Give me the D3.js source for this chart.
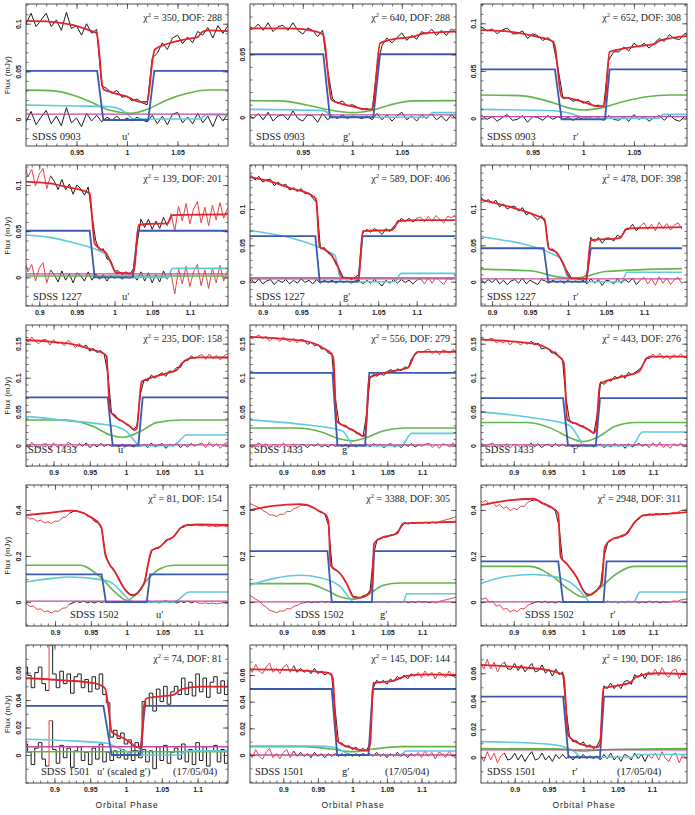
<!DOCTYPE html>
<html>
<head>
<meta charset="utf-8">
<script src="https://cdn.jsdelivr.net/npm/d3@7"></script>
<style>
  html, body { margin: 0; padding: 0; background: #fff; }
  svg text { font-family: "Liberation Sans", Arial, sans-serif; fill: #222; }
  svg text.serif { font-family: "Liberation Serif", "Times New Roman", serif; }
</style>
</head>
<body>
<svg id="fig" width="695" height="815"></svg>
<script>
// orbital phase grid of the binned light curves
const phaseGrid = [0.85,0.855,0.86,0.865,0.87,0.875,0.88,0.885,0.89,0.895,0.9,0.905,0.91,0.915,0.92,0.925,0.93,0.935,0.94,0.945,0.95,0.955,0.96,0.965,0.97,0.975,0.98,0.985,0.99,0.995,1,1.005,1.01,1.015,1.02,1.025,1.03,1.035,1.04,1.045,1.05,1.055,1.06,1.065,1.07,1.075,1.08,1.085,1.09,1.095,1.1,1.105,1.11,1.115,1.12,1.125,1.13,1.135,1.14,1.145,1.15];

// all fluxes below in microJy (1e-3 mJy)
// SDSS 0903 (starts at phase 0.895)
const obs_0903u = [107,100,111,97,104,111,97,104,93,112,95,98,88,100,90,94,35,32,27,30,23,24,19,21,17,15,64,69,80,73,85,88,79,86,80,92,88,96,85,98,90,98,87];
const res_0903u = [4,-3,8,-6,2,9,-5,3,-7,12,-4,1,-8,6,-2,4,-3,2,-1,3,-2,1,-2,2,-1,-3,4,-5,3,-6,5,7,-4,2,-5,6,-4,3,-8,5,-2,6,-5];
const obs_0903g = [73,70,74,69,75,68,72,73,69,75,69,66,71,69,64,69,38,15,11,13,9,10,8,6,7,5,40,57,63,59,63,67,61,65,62,68,66,70,65,69,65,70,67];
const res_0903g = [2,-1,3,-2,4,-3,1,2,-2,5,-1,-3,2,1,-4,3,-2,1,-1,2,-1,1,0,-1,1,-2,3,-2,2,-3,1,4,-2,1,-3,2,-1,3,-2,1,-3,2,-1];
const obs_0903r = [91,96,92,94,89,93,95,89,89,92,84,89,87,82,85,80,53,21,22,18,20,16,18,13,14,11,61,70,70,75,71,79,75,79,74,79,84,81,88,84,83,89,88];
const res_0903r = [-2,3,-1,2,-3,1,4,-2,-1,3,-4,2,1,-2,3,-1,2,-1,1,-2,1,-1,2,-1,1,-2,3,-1,-2,2,-3,4,-1,2,-3,1,3,-2,4,-1,-3,2,1];

const mod_0903u = [[0.895,103],[0.925,102],[0.947,98.5],[0.963,93],[0.970,90],[0.9725,70],[0.9755,35],[0.977,31],[0.985,28],[1.0,23.5],[1.013,18],[1.020,18],[1.022,30],[1.025,60],[1.0275,73],[1.04,79],[1.06,84],[1.07,86],[1.074,91],[1.08,93],[1.105,92]];
const wd_0903u = [[0.895,50.5],[0.9705,50.5],[0.9765,-1],[1.021,-1],[1.027,50.5],[1.105,50.5]];
const disc_0903u = [[0.895,30.4],[0.925,29.8],[0.947,25],[0.966,17],[0.982,9.4],[1.004,6],[1.022,11],[1.039,19.8],[1.059,26.7],[1.08,30.4],[1.105,30.4]];
const spot_0903u = [[0.895,14.7],[0.95,13.7],[0.984,12.9],[0.993,10.5],[1.0,5.5],[1.006,0],[1.072,0],[1.078,4.5],[1.105,4.5]];
const sec_0903u = [[0.895,5.2],[1.105,5.2]];

const mod_0903g = [[0.895,70.6],[0.937,70.6],[0.964,68],[0.9707,65.3],[0.972,60],[0.979,13.8],[0.9875,11.1],[1.001,8.5],[1.0145,6.3],[1.0195,6.3],[1.0212,10],[1.028,58.7],[1.038,61.4],[1.0616,64],[1.0734,66.7],[1.105,68]];
const wd_0903g = [[0.895,50],[0.9707,50],[0.9774,0],[1.0212,0],[1.028,50],[1.105,50]];
const disc_0903g = [[0.895,13.2],[0.927,13],[0.954,9.8],[0.977,5.8],[1.001,3.7],[1.021,5.8],[1.038,9.8],[1.0616,13],[1.105,13.2]];
const spot_0903g = [[0.895,6.3],[0.9707,5.3],[0.981,0.5],[0.985,0],[1.075,0],[1.081,3.7],[1.105,3.7]];
const sec_0903g = [[0.895,1.9],[1.105,1.9]];

const mod_0903r = [[0.895,93],[0.9276,91.2],[0.954,86],[0.9704,80.7],[0.972,75],[0.9786,22.8],[0.9868,21],[1.0,17.5],[1.013,13],[1.0197,13],[1.0214,18],[1.026,70],[1.036,72.6],[1.0625,77],[1.07,78],[1.0757,81.8],[1.105,86.7]];
const wd_0903r = [[0.895,51.6],[0.972,51.6],[0.9786,-1],[1.0214,-1],[1.026,51.6],[1.105,51.6]];
const disc_0903r = [[0.895,24.6],[0.9375,24],[0.97,16.5],[0.9836,11.6],[1.0,8.8],[1.0197,11.6],[1.039,17.5],[1.0625,22.8],[1.0855,24.6],[1.105,24.6]];
const spot_0903r = [[0.895,9.5],[0.9704,8.1],[0.987,5.3],[1.0,1],[1.004,0],[1.074,0],[1.079,4.2],[1.105,4.2]];
const sec_0903r = [[0.895,1.8],[1.105,1.8]];

// SDSS 1227
const obs_1227u = [117,100,122,108,119,96,124,109,117,99,112,118,96,110,104,95,106,95,101,90,100,96,89,98,67,40,29,31,20,18,7,7,3,6,3,9,37,63,54,63,52,61,53,65,56,69,50,77,61,80,58,74,82,59,76,56,78,62,81,64,75];
const res_1227u = [12,-5,18,4,15,-8,20,6,14,-4,10,16,-6,8,3,-5,7,-3,4,-6,5,2,-4,6,-3,4,-2,3,-4,2,-1,2,-2,1,-1,2,-3,6,-4,5,-6,3,-5,7,-2,4,-18,9,-7,12,-10,6,14,-9,8,-12,10,-6,13,-4,7];
const obs_1227g = [155,149,154,146,150,151,141,146,140,145,137,140,141,132,137,132,134,126,129,124,128,121,122,115,109,45,47,39,37,24,16,5,6,3,6,10,67,72,68,73,70,65,73,69,76,80,87,83,87,82,87,89,82,90,83,91,86,81,90,88,92];
const res_1227g = [3,-2,4,-3,2,5,-4,3,-2,4,-3,1,3,-4,2,-1,3,-3,2,-2,4,-1,2,-3,3,-2,2,-1,2,-2,1,-1,1,-2,1,2,-3,2,-2,3,-1,-6,2,-2,3,-2,3,-1,2,-3,2,4,-3,5,-2,6,1,-4,5,3,7];
const obs_1227r = [125,117,122,124,114,117,110,117,110,113,108,112,103,107,100,103,104,97,102,92,95,90,85,91,81,44,45,39,32,20,13,4,5,3,6,10,61,55,61,53,60,60,56,64,61,72,72,79,70,76,81,72,79,70,82,73,80,71,78,81,72];
const res_1227r = [3,-4,2,5,-3,1,-5,4,-2,3,-1,4,-3,2,-4,1,3,-2,5,-3,2,-1,-4,3,1,-2,2,-1,1,-2,2,-1,1,-1,2,-3,4,-2,3,-5,2,1,-3,4,-2,3,-1,5,-4,2,6,-3,4,-5,7,-2,5,-4,3,6,-3];

const mod_1227u = [[0.85,105],[0.8824,103.6],[0.914,101.8],[0.936,98],[0.9626,92.8],[0.967,91],[0.968,85],[0.9736,36.8],[0.98,31.4],[0.989,26],[0.9956,15.2],[1.002,5],[1.024,4.3],[1.0264,10],[1.032,56.7],[1.042,57.8],[1.0705,58.5],[1.073,62],[1.077,67.5],[1.15,68.2]];
const wd_1227u = [[0.85,50.5],[0.967,50.5],[0.9736,0],[1.0242,0],[1.031,50.5],[1.15,50.5]];
const disc_1227u = [[0.85,1.5],[1.15,1.5]];
const spot_1227u = [[0.85,47],[0.8824,45.8],[0.914,43.3],[0.945,37.5],[0.9714,31.4],[0.989,24.2],[0.9978,11.6],[1.0044,0.7],[1.007,0],[1.0705,0],[1.077,9.7],[1.15,9.7]];
const sec_1227u = [[0.85,3.8],[1.15,3.8]];

const mod_1227g = [[0.85,152],[0.881,144.5],[0.911,137.6],[0.937,128.4],[0.963,119.2],[0.9684,114.7],[0.9697,110],[0.974,48],[0.9805,44.5],[0.989,36.7],[0.9978,20.6],[1.003,6],[1.024,4.6],[1.025,8],[1.030,69.7],[1.067,71.1],[1.071,74],[1.076,83.5],[1.106,84.8],[1.15,84.8]];
const wd_1227g = [[0.85,62.8],[0.9684,62.8],[0.974,0],[1.024,0],[1.0295,62.8],[1.15,62.8]];
const disc_1227g = [[0.85,5.5],[1.15,5.5]];
const spot_1227g = [[0.85,75],[0.881,71],[0.9935,36.7],[1.002,0.5],[1.004,0],[1.071,0],[1.08,11.5],[1.15,11.5]];
const sec_1227g = [[0.85,4],[1.15,4]];

const mod_1227r = [[0.85,122],[0.885,113],[0.93,101],[0.965,88],[0.969,86],[0.9745,46],[0.985,40],[0.995,22],[1.003,5],[1.024,4],[1.030,57],[1.068,60],[1.078,73],[1.15,75]];
const wd_1227r = [[0.85,46],[0.968,46],[0.974,0],[1.024,0],[1.03,46],[1.15,46]];
const disc_1227r = [[0.85,18],[0.95,15],[0.99,6],[1.01,5],[1.05,14],[1.15,18]];
const spot_1227r = [[0.85,66],[0.885,62],[0.99,33],[1.002,0.5],[1.004,0],[1.07,0],[1.078,13],[1.15,13]];
const sec_1227r = [[0.85,4],[1.15,4]];

// SDSS 1433
const obs_1433u = [159,154,159,152,160,153,150,156,156,148,156,150,152,147,155,151,144,150,145,148,139,143,137,140,134,105,48,45,37,37,31,29,23,29,77,97,95,104,99,104,107,102,110,109,115,115,125,125,132,128,132,134,127,135,128,133,126,132,135,127,131];
const res_1433u = [3,-2,4,-3,5,-1,-4,2,3,-5,4,-2,1,-3,5,2,-4,3,-1,4,-3,2,-2,3,-1,2,-1,1,-2,2,-1,1,-2,1,-1,2,-3,4,-2,1,3,-4,2,-1,4,-3,2,-2,3,-1,2,4,-3,5,-2,3,-4,2,5,-3,1];
const obs_1433g = [162,157,160,163,157,161,154,158,159,153,160,155,153,158,151,156,155,149,152,147,149,142,143,136,136,69,35,30,30,24,24,18,18,13,46,99,105,102,107,103,109,112,108,113,110,116,114,128,133,139,137,140,142,135,140,134,141,139,136,142,135];
const res_1433g = [2,-3,1,4,-2,3,-4,1,2,-3,4,-1,-2,3,-4,2,1,-3,2,-1,3,-2,1,-2,2,-1,1,-1,2,-1,1,-2,1,-1,2,-2,3,-1,2,-3,1,3,-2,1,-3,2,-1,3,-2,1,-1,2,4,-3,2,-4,3,1,-2,4,-3];
const obs_1433r = [154,159,154,157,158,151,154,151,155,148,154,152,148,152,149,154,148,151,142,144,142,136,138,130,128,71,38,33,33,29,29,24,23,17,46,94,90,96,95,102,99,104,99,108,104,108,112,117,129,128,135,129,136,128,133,127,134,130,135,129,134];
const res_1433r = [-2,3,-1,2,4,-3,1,-2,3,-4,2,1,-3,2,-1,4,-2,3,-3,1,2,-2,3,-1,2,-1,1,-2,1,-1,2,-1,1,-2,1,2,-3,1,-2,3,-1,2,-4,3,-2,1,3,-1,2,-3,4,-2,5,-3,2,-4,3,-1,4,-2,3];

const mod_1433u = [[0.85,156],[0.862,155.4],[0.895,153],[0.932,148],[0.955,140.7],[0.9687,135.8],[0.9733,131],[0.974,120],[0.978,52.5],[0.9825,45],[0.9917,37.7],[1.003,30.4],[1.0124,23],[1.0147,25],[1.0216,94],[1.0285,97.5],[1.056,106.4],[1.07,111.3],[1.077,121],[1.088,128.4],[1.102,130],[1.15,129.5]];
const wd_1433u = [[0.85,71.1],[0.9747,71.1],[0.9816,0],[1.017,0],[1.023,71.1],[1.15,71.1]];
const disc_1433u = [[0.85,37.7],[0.918,37.7],[0.955,28],[0.978,15.7],[0.9963,12.3],[1.0193,20.6],[1.042,33.8],[1.0745,37.7],[1.15,37.7]];
const spot_1433u = [[0.85,43],[0.862,42.6],[0.918,36.8],[0.964,32],[0.987,28],[1.001,20.6],[1.0147,3.4],[1.019,0],[1.065,0],[1.0837,15.7],[1.15,15.7]];
const sec_1433u = [[0.85,1],[1.15,1]];

const mod_1433g = [[0.85,160],[0.93,154],[0.96,142],[0.969,135],[0.972,130],[0.977,36],[0.99,28],[1.005,20],[1.015,14],[1.018,16],[1.024,100],[1.05,108],[1.08,115],[1.09,135],[1.095,138],[1.15,138]];
const wd_1433g = [[0.85,107],[0.971,107],[0.978,0],[1.018,0],[1.024,107],[1.15,107]];
const disc_1433g = [[0.85,26],[0.92,26],[0.955,20],[0.98,10],[1.0,7],[1.02,12],[1.045,22],[1.075,26],[1.15,26]];
const spot_1433g = [[0.85,38],[0.92,32],[0.985,22],[0.995,8],[1.0,0],[1.07,0],[1.085,18],[1.15,18]];
const sec_1433g = [[0.85,1],[1.15,1]];

const mod_1433r = [[0.85,156],[0.93,150],[0.96,135],[0.969,127],[0.972,122],[0.977,38],[0.99,32],[1.005,25],[1.015,19],[1.018,22],[1.024,91],[1.05,100],[1.08,109],[1.09,127],[1.095,131],[1.15,131]];
const wd_1433r = [[0.85,70],[0.971,70],[0.978,0],[1.018,0],[1.024,70],[1.15,70]];
const disc_1433r = [[0.85,34],[0.92,34],[0.955,25],[0.98,12],[1.0,6],[1.02,12],[1.045,28],[1.075,34],[1.15,34]];
const spot_1433r = [[0.85,50],[0.92,42],[0.98,30],[0.993,12],[1.0,0],[1.07,0],[1.085,20],[1.15,20]];
const sec_1433r = [[0.85,1],[1.15,1]];

// SDSS 1502
const obs_1502u = [372,368,371,361,363,351,356,344,349,341,352,351,366,369,386,393,397,390,389,374,370,351,345,318,213,167,150,123,98,65,48,31,32,41,62,87,171,223,234,234,252,271,272,285,299,324,326,338,332,338,333,331,333,329,332,327,330,332,328,330,332];
const res_1502u = [-3,-9,-7,-19,-18,-32,-29,-42,-38,-48,-38,-41,-27,-25,-10,-3,3,-2,4,-3,2,-4,3,-2,4,-3,2,-1,3,-2,1,-2,2,-1,2,-3,4,-2,3,-4,2,5,-3,2,-4,3,-2,4,-3,2,-4,-6,-3,-7,-4,-8,-5,-3,-6,-4,-2];
const obs_1502g = [429,424,416,411,398,390,379,378,372,382,381,394,393,406,411,421,420,422,412,408,396,392,379,332,153,143,127,112,85,58,26,22,18,28,32,51,208,271,275,282,283,292,294,308,326,346,339,345,342,347,343,347,342,348,342,350,354,358,362,367,371];
const res_1502g = [30,22,12,4,-12,-22,-36,-40,-47,-38,-40,-28,-30,-18,-14,-5,-3,2,-3,2,-2,3,-1,2,-2,1,-2,2,-1,1,-2,1,-1,2,-1,1,-2,3,-2,1,-3,2,-1,3,-2,4,-3,2,-2,3,-1,2,-3,2,-4,3,7,10,14,18,22];
const obs_1502r = [444,434,442,425,434,415,424,407,414,397,408,401,417,416,433,440,444,441,429,428,414,411,393,333,185,172,150,133,108,81,50,37,32,41,54,77,201,257,268,279,278,290,291,312,329,353,360,378,375,383,378,384,379,384,381,385,390,390,397,401,406];
const res_1502r = [25,12,18,-2,4,-18,-12,-32,-26,-44,-34,-42,-28,-30,-14,-8,-2,3,-2,4,-3,2,-4,3,-2,2,-1,3,-2,1,-1,2,-1,1,-2,2,-3,4,-2,3,-4,2,-3,4,-2,3,-4,2,-3,4,-2,3,-3,2,-2,1,5,3,9,11,15];

const mod_1502u = [[0.85,375],[0.8595,378],[0.893,388],[0.923,397],[0.935,392],[0.949,371],[0.963,334],[0.965,320],[0.9698,211],[0.9744,174],[0.9837,131],[0.9953,65],[1.0047,33],[1.0093,29],[1.0186,51],[1.0256,94.5],[1.030,167],[1.035,225],[1.0465,240],[1.056,269],[1.065,283],[1.0744,320],[1.0837,334],[1.102,337],[1.15,334]];
const wd_1502u = [[0.85,120.6],[0.965,120.6],[0.971,0],[1.028,0],[1.0326,120.6],[1.15,120.6]];
const disc_1502u = [[0.85,160],[0.935,160],[0.963,109],[0.986,36.3],[1.0,7.3],[1.014,36.3],[1.028,94.5],[1.0465,145],[1.065,160],[1.15,160]];
const spot_1502u = [[0.85,82],[0.8595,87],[0.893,101.7],[0.923,109],[0.9535,101.7],[0.977,87],[0.9907,50.9],[1.0047,7.3],[1.009,0],[1.065,0],[1.088,43.6],[1.15,43.6]];
const sec_1502u = [[0.85,4],[1.15,4]];

const mod_1502g = [[0.85,399],[0.885,418],[0.924,426],[0.938,418],[0.9528,393],[0.9614,378],[0.9648,349],[0.968,160],[0.9817,124],[0.9913,80],[1.001,21.8],[1.0106,19],[1.0227,36.4],[1.0275,65.5],[1.0308,255],[1.0395,276.6],[1.0636,298],[1.073,342],[1.107,345],[1.15,349]];
const wd_1502g = [[0.85,221],[0.9634,221],[0.9696,0],[1.0275,0],[1.0308,221],[1.15,221]];
const disc_1502g = [[0.85,80],[0.9335,80],[0.9624,51],[0.9817,21.8],[1.001,13],[1.02,29],[1.044,72.8],[1.068,83],[1.15,83]];
const spot_1502g = [[0.85,72],[0.885,102],[0.924,116.5],[0.9528,106],[0.9817,68],[0.996,14.6],[1.001,0],[1.073,0],[1.078,36.4],[1.15,36.4]];
const sec_1502g = [[0.85,0.5],[1.15,0.5]];

const mod_1502r = [[0.85,419],[0.885,439],[0.928,449],[0.9424,428],[0.957,406],[0.964,384],[0.9674,196],[0.976,167],[0.9904,109],[1.0,50.7],[1.0072,29],[1.0168,43.5],[1.0264,79.7],[1.031,239],[1.0384,268],[1.0624,297],[1.072,340],[1.0863,377],[1.1247,384],[1.15,391]];
const wd_1502r = [[0.85,177],[0.964,177],[0.971,0],[1.029,0],[1.0335,177],[1.15,177]];
const disc_1502r = [[0.85,155],[0.923,155],[0.957,109],[0.981,50.7],[1.0,21.7],[1.019,50.7],[1.048,123],[1.072,155],[1.15,155]];
const spot_1502r = [[0.85,78],[0.885,109],[0.928,120],[0.9616,109],[0.99,65],[1.0048,14.5],[1.009,0],[1.072,0],[1.0815,43.5],[1.15,43.5]];
const sec_1502r = [[0.85,0.5],[1.15,0.5]];

// SDSS 1501
const obs_1501u = [62,52,64,58,49,60,64,52,47,80,59,49,61,52,59,45,57,59,49,55,46,57,48,59,44,38,13,18,12,16,8,11,3,9,5,39,36,45,32,48,39,50,37,46,50,44,56,44,53,43,59,46,56,42,53,57,45,54,44,55,48];
const res_1501u = [6,-4,8,2,-7,5,9,-3,-8,25,4,-6,7,-2,5,-9,3,6,-4,2,-7,5,-3,8,-5,2,-4,3,-2,4,-3,2,-4,3,-2,4,-5,3,-10,6,-4,7,-6,2,5,-3,8,-5,4,-7,9,-4,6,-8,3,7,-5,4,-6,5,-2];
const obs_1501g = [67,62,68,63,61,66,69,62,65,61,66,68,62,67,62,65,62,64,61,65,61,63,60,62,59,34,9,9,6,7,4,6,3,5,3,8,50,56,54,56,53,57,55,59,57,60,57,61,59,62,58,63,59,62,57,62,61,58,63,59,58];
const res_1501g = [3,-2,4,-1,-3,2,5,-2,1,-3,2,4,-2,3,-1,2,-1,1,-2,2,-1,1,-2,1,-1,1,-1,1,-1,1,-1,1,-1,1,0,1,-1,2,-1,1,-2,1,-1,2,-1,1,-2,1,-1,2,-2,3,-1,2,-3,2,1,-2,3,-1,-2];
const obs_1501r = [68,63,70,63,68,61,66,68,63,63,67,62,66,61,64,67,61,62,66,60,63,58,63,59,61,34,15,11,12,9,11,7,9,6,8,13,51,49,53,49,52,49,54,55,52,59,57,60,56,61,59,63,58,64,59,57,62,63,56,62,59];
const res_1501r = [2,-3,4,-2,3,-4,1,3,-2,-1,3,-2,2,-3,1,4,-2,-1,3,-2,1,-3,2,-1,2,-1,1,-2,1,-1,2,-1,1,-1,1,-2,2,-1,3,-2,1,-3,2,1,-2,3,-1,2,-3,2,-1,3,-2,4,-1,-3,2,3,-4,2,-1];

const mod_1501u = [[0.85,56],[0.8605,55.9],[0.917,54.2],[0.9498,52.7],[0.9637,51],[0.9707,48.6],[0.9753,35.2],[0.98,17],[0.987,14.6],[1.0009,10.9],[1.0102,7.3],[1.0172,5.6],[1.0219,8],[1.025,35.2],[1.0288,41.3],[1.0567,43],[1.066,43.7],[1.0777,47.9],[1.1033,49.8],[1.15,49.8]];
const wd_1501u = [[0.85,35.7],[0.9684,35.7],[0.98,0],[1.0195,0],[1.0265,35.7],[1.15,35.7]];
const disc_1501u = [[0.85,2.4],[1.15,2.4]];
const spot_1501u = [[0.85,11.6],[0.917,10.4],[0.973,8.5],[0.987,5.6],[1.0056,1.2],[1.01,0],[1.075,0],[1.085,3],[1.15,3]];
const sec_1501u = [[0.85,6],[1.15,6]];

const mod_1501g = [[0.85,64.3],[0.9097,63.8],[0.9483,62.5],[0.9676,61.3],[0.97,60],[0.9715,58],[0.9773,11.3],[0.9821,8.8],[1.0014,5],[1.0208,3.3],[1.023,4],[1.0256,8],[1.0304,54],[1.0594,55.8],[1.0787,59.3],[1.1077,60.5],[1.15,60]];
const wd_1501g = [[0.85,49.5],[0.97,49.5],[0.978,0],[1.0232,0],[1.0295,49.5],[1.15,49.5]];
const disc_1501g = [[0.85,6.3],[0.93,6.3],[0.97,4.5],[1.0,2.5],[1.03,4.5],[1.07,6.3],[1.15,6.3]];
const spot_1501g = [[0.85,6.8],[0.9483,6.8],[0.9725,5.8],[0.9918,1.3],[0.996,0],[1.069,0],[1.078,3],[1.15,3]];
const sec_1501g = [[0.85,0],[1.15,0]];

const mod_1501r = [[0.85,66],[0.9073,64.3],[0.9463,62.4],[0.9659,60],[0.9707,59],[0.9717,57],[0.978,16],[0.9805,14.3],[1.0,8.8],[1.0195,7.1],[1.0244,9],[1.0293,49.3],[1.0488,51],[1.0683,53.3],[1.078,57.6],[1.1073,60],[1.152,59.3]];
const wd_1501r = [[0.85,43.3],[0.9707,43.3],[0.9785,0],[1.0244,0],[1.0302,43.3],[1.152,43.3]];
const disc_1501r = [[0.85,6.2],[0.96,6],[1.0,4.5],[1.04,5.5],[1.152,6.2]];
const spot_1501r = [[0.85,11.2],[0.9463,9.5],[0.9707,7.6],[0.99,2.9],[0.996,0],[1.07,0],[1.078,2],[1.152,2]];
const sec_1501r = [[0.85,5.2],[1.152,5.2]];

// panel texts
const starNames = ['SDSS 0903', 'SDSS 1227', 'SDSS 1433', 'SDSS 1502', 'SDSS 1501'];
const bandNames = ['u\u2032', 'g\u2032', 'r\u2032'];
const chiValues = [[350, 288], [640, 288], [652, 308], [139, 201], [589, 406], [478, 398], [235, 158], [556, 279], [443, 276], [81, 154], [3388, 305], [2948, 311], [74, 81], [145, 144], [190, 186]];

// axis ranges (phase, mJy) and ticks
const xDomains = [[0.9,1.1],[0.8967,1.1047],[0.899,1.1024],[0.8824,1.1507],[0.8835,1.151],[0.8855,1.1566],[0.862,1.1407],[0.852,1.149],[0.853,1.149],[0.8595,1.1413],[0.8515,1.149],[0.853,1.149],[0.8603,1.1425],[0.8517,1.15],[0.8509,1.1513]];
const yDomains = [[-0.0283,0.1207],[-0.0228,0.0899],[-0.029,0.1203],[-0.031,0.1217],[-0.0334,0.1605],[-0.0334,0.1605],[-0.03,0.1775],[-0.03,0.1775],[-0.03,0.1775],[-0.104,0.5087],[-0.104,0.5087],[-0.104,0.5087],[-0.0204,0.0801],[-0.021,0.0825],[-0.0184,0.0802]];
const xTicksNarrow = [0.95, 1, 1.05];
const xTicksWide = [0.9, 0.95, 1, 1.05, 1.1];
const yTicksByRow = [[0, 0.05, 0.1], [0, 0.05, 0.1], [0, 0.05, 0.1, 0.15], [0, 0.2, 0.4], [0, 0.02, 0.04, 0.06]];
const yMinorStep = [0.01, 0.01, 0.01, 0.1, 0.01];

// phase ranges plotted in red (not used in the fit)
const excluded = [[], [], [],
  [[0.84,0.9175],[1.0725,1.16]], [[1.1025,1.16]], [[1.0975,1.16]],
  [[0.84,0.9375],[1.0975,1.16]], [[0.84,0.9275],[1.0975,1.16]], [[0.84,0.9275],[1.0975,1.16]],
  [[0.84,0.9225],[1.0975,1.16]], [[0.84,0.9325],[1.1175,1.16]], [[0.84,0.9275],[1.1225,1.16]],
  [[0.8925,0.8975]], [[0.84,0.9175],[1.0925,1.16]], [[0.84,0.8875],[1.0975,1.16]]];
// the coarse u' curve of SDSS 1501 is drawn as a histogram
const histogramPanels = [12];

const panelData = [
  [obs_0903u, res_0903u, mod_0903u, wd_0903u, disc_0903u, spot_0903u, sec_0903u],
  [obs_0903g, res_0903g, mod_0903g, wd_0903g, disc_0903g, spot_0903g, sec_0903g],
  [obs_0903r, res_0903r, mod_0903r, wd_0903r, disc_0903r, spot_0903r, sec_0903r],
  [obs_1227u, res_1227u, mod_1227u, wd_1227u, disc_1227u, spot_1227u, sec_1227u],
  [obs_1227g, res_1227g, mod_1227g, wd_1227g, disc_1227g, spot_1227g, sec_1227g],
  [obs_1227r, res_1227r, mod_1227r, wd_1227r, disc_1227r, spot_1227r, sec_1227r],
  [obs_1433u, res_1433u, mod_1433u, wd_1433u, disc_1433u, spot_1433u, sec_1433u],
  [obs_1433g, res_1433g, mod_1433g, wd_1433g, disc_1433g, spot_1433g, sec_1433g],
  [obs_1433r, res_1433r, mod_1433r, wd_1433r, disc_1433r, spot_1433r, sec_1433r],
  [obs_1502u, res_1502u, mod_1502u, wd_1502u, disc_1502u, spot_1502u, sec_1502u],
  [obs_1502g, res_1502g, mod_1502g, wd_1502g, disc_1502g, spot_1502g, sec_1502g],
  [obs_1502r, res_1502r, mod_1502r, wd_1502r, disc_1502r, spot_1502r, sec_1502r],
  [obs_1501u, res_1501u, mod_1501u, wd_1501u, disc_1501u, spot_1501u, sec_1501u],
  [obs_1501g, res_1501g, mod_1501g, wd_1501g, disc_1501g, spot_1501g, sec_1501g],
  [obs_1501r, res_1501r, mod_1501r, wd_1501r, disc_1501r, spot_1501r, sec_1501r]
];

// ---------- layout ----------
const colX = [26, 250, 481], colW = [202, 206, 206];
const rowY = [4, 165, 325, 485, 645], rowH = [142, 141, 141, 141, 138];
const starDx = [[6, 6, 6], [7, 6, 6], [2, 4, 4], [44, 45, 44], [15, 5, 6]];
const bandDx = [[96, 93, 92], [96, 93, 92], [92, 92, 92], [130, 130, 129], [71, 92, 91]];
const textDy = [-6, -6, -13, -8, -8];
const dateDx = [147, 135, 136];

const col = {
  model: '#e3232c', wd: '#3a5aae', disc: '#62b548', spot: '#60c8dc', sec: '#c24aa6',
  data: '#1e1e1e', excl: '#e2444a'
};

const svg = d3.select('#fig');
const defs = svg.append('defs');
const fmt = v => String(+v.toFixed(3));

// split a curve into runs of fitted / excluded points
function runsOf(ph, isRed) {
  const runs = [];
  ph.forEach((t, i) => {
    const red = isRed(t);
    if (!runs.length || runs[runs.length - 1].red !== red) runs.push({ red, idx: [] });
    runs[runs.length - 1].idx.push(i);
  });
  return runs;
}

function drawSteps(sel, ph, vals, x, y, isRed, width) {
  const step = ph[1] - ph[0];
  const edge = i => i <= 0 ? ph[0] - step / 2 : (i >= ph.length ? ph[ph.length - 1] + step / 2 : (ph[i - 1] + ph[i]) / 2);
  runsOf(ph, isRed).forEach(r => {
    const p = d3.path();
    r.idx.forEach((i, j) => {
      const yi = y(vals[i] / 1000);
      if (j === 0) p.moveTo(x(edge(i)), i > 0 ? y(vals[i - 1] / 1000) : yi);
      p.lineTo(x(edge(i)), yi);
      p.lineTo(x(edge(i + 1)), yi);
    });
    sel.append('path').attr('d', p.toString())
      .attr('fill', 'none')
      .attr('stroke', r.red ? col.excl : col.data)
      .attr('stroke-width', width);
  });
}

function drawJagged(sel, ph, vals, x, y, isRed, width) {
  const line = d3.line().x(i => x(ph[i])).y(i => y(vals[i] / 1000));
  runsOf(ph, isRed).forEach(r => {
    const idx = r.idx[0] > 0 ? [r.idx[0] - 1, ...r.idx] : r.idx;
    sel.append('path').attr('d', line(idx))
      .attr('fill', 'none')
      .attr('stroke', r.red ? col.excl : col.data)
      .attr('stroke-width', width)
      .attr('stroke-linejoin', 'miter');
  });
}

panelData.forEach((pd, k) => {
  const row = Math.floor(k / 3), c = k % 3;
  const [obs, res, model, wd, disc, spot, sec] = pd;
  const left = colX[c], top = rowY[row], w = colW[c], h = rowH[row];
  const x = d3.scaleLinear().domain(xDomains[k]).range([left, left + w]);
  const y = d3.scaleLinear().domain(yDomains[k]).range([top + h, top]);

  defs.append('clipPath').attr('id', 'clip' + k)
    .append('rect').attr('x', left).attr('y', top).attr('width', w).attr('height', h);

  const g = svg.append('g');
  const plot = g.append('g').attr('clip-path', `url(#clip${k})`);

  const first = row === 0 ? 9 : 0;
  const ph = phaseGrid.slice(first, first + obs.length);
  const isRed = t => excluded[k].some(([a, b]) => t >= a && t <= b);
  const drawData = histogramPanels.includes(k) ? drawSteps : drawJagged;

  // residuals around zero, then the light curve
  drawData(plot, ph, res, x, y, isRed, 1);
  drawData(plot, ph, obs, x, y, isRed, 1);

  const smooth = d3.line().x(d => x(d[0])).y(d => y(d[1] / 1000)).curve(d3.curveMonotoneX);
  const straight = d3.line().x(d => x(d[0])).y(d => y(d[1] / 1000));

  plot.append('path').attr('d', smooth(disc)).attr('fill', 'none').attr('stroke', col.disc).attr('stroke-width', 1.6);
  plot.append('path').attr('d', smooth(spot)).attr('fill', 'none').attr('stroke', col.spot).attr('stroke-width', 1.6);
  plot.append('path').attr('d', straight(sec)).attr('fill', 'none').attr('stroke', col.sec).attr('stroke-width', 1.3);
  plot.append('path').attr('d', straight(wd)).attr('fill', 'none').attr('stroke', col.wd).attr('stroke-width', 1.8);
  plot.append('path').attr('d', smooth(model)).attr('fill', 'none').attr('stroke', col.model).attr('stroke-width', 1.8);

  // axes: inward ticks on all four sides
  const xMajor = row === 0 ? xTicksNarrow : xTicksWide;
  const xMinor = d3.range(0.86, 1.145, 0.01).filter(v => v > xDomains[k][0] && v < xDomains[k][1]);
  const yMajor = yTicksByRow[row].filter(v => v >= yDomains[k][0] && v <= yDomains[k][1]);
  const yMinor = d3.range(Math.ceil(yDomains[k][0] / yMinorStep[row]) * yMinorStep[row], yDomains[k][1], yMinorStep[row]);

  const axisStyle = sel => {
    sel.select('.domain').remove();
    sel.selectAll('line').attr('stroke', '#333').attr('stroke-width', 0.7);
    sel.selectAll('text').style('font-size', '7px').style('font-weight', 'bold').attr('fill', '#333');
  };

  g.append('g').attr('transform', `translate(0,${top + h})`)
    .call(d3.axisBottom(x).tickValues(xMinor).tickSizeInner(-2.5).tickSizeOuter(0).tickFormat(''))
    .call(axisStyle);
  g.append('g').attr('transform', `translate(0,${top + h})`)
    .call(d3.axisBottom(x).tickValues(xMajor).tickSizeInner(-5).tickSizeOuter(0).tickPadding(4).tickFormat(fmt))
    .call(axisStyle);
  g.append('g').attr('transform', `translate(0,${top})`)
    .call(d3.axisTop(x).tickValues(xMinor).tickSizeInner(-2.5).tickSizeOuter(0).tickFormat(''))
    .call(axisStyle);
  g.append('g').attr('transform', `translate(0,${top})`)
    .call(d3.axisTop(x).tickValues(xMajor).tickSizeInner(-5).tickSizeOuter(0).tickFormat(''))
    .call(axisStyle);

  g.append('g').attr('transform', `translate(${left},0)`)
    .call(d3.axisLeft(y).tickValues(yMinor).tickSizeInner(-2.5).tickSizeOuter(0).tickFormat(''))
    .call(axisStyle);
  g.append('g').attr('transform', `translate(${left},0)`)
    .call(d3.axisLeft(y).tickValues(yMajor).tickSizeInner(-5).tickSizeOuter(0).tickFormat(fmt))
    .call(axisStyle)
    .selectAll('.tick text')
    .attr('transform', 'rotate(-90)')
    .attr('x', 0).attr('y', -5).attr('dy', 0)
    .style('text-anchor', 'middle');
  g.append('g').attr('transform', `translate(${left + w},0)`)
    .call(d3.axisRight(y).tickValues(yMinor).tickSizeInner(-2.5).tickSizeOuter(0).tickFormat(''))
    .call(axisStyle);
  g.append('g').attr('transform', `translate(${left + w},0)`)
    .call(d3.axisRight(y).tickValues(yMajor).tickSizeInner(-5).tickSizeOuter(0).tickFormat(''))
    .call(axisStyle);

  g.append('rect').attr('x', left).attr('y', top).attr('width', w).attr('height', h)
    .attr('fill', 'none').attr('stroke', '#333').attr('stroke-width', 0.9);

  // labels
  const chi = g.append('text').attr('class', 'serif')
    .attr('x', left + w - 6).attr('y', top + 17)
    .attr('text-anchor', 'end').style('font-size', '10px');
  chi.append('tspan').text('\u03c7');
  chi.append('tspan').attr('dy', -4).style('font-size', '6.5px').text('2');
  chi.append('tspan').attr('dy', 4).text(` = ${chiValues[k][0]}, DOF: ${chiValues[k][1]}`);

  const base = top + h + textDy[row];
  g.append('text').attr('class', 'serif').attr('x', left + starDx[row][c]).attr('y', base)
    .style('font-size', '10.5px').text(starNames[row]);
  const band = (row === 4 && c === 0) ? 'u\u2032 (scaled g\u2032)' : bandNames[c];
  g.append('text').attr('class', 'serif').attr('x', left + bandDx[row][c]).attr('y', base)
    .style('font-size', '10.5px').text(band);
  if (row === 4) {
    g.append('text').attr('class', 'serif').attr('x', left + dateDx[c]).attr('y', base)
      .style('font-size', '10.5px').text('(17/05/04)');
    g.append('text').attr('x', left + w / 2).attr('y', 808)
      .attr('text-anchor', 'middle').style('font-size', '8.5px').style('letter-spacing', '0.9px')
      .text('Orbital Phase');
  }
  if (c === 0) {
    g.append('text')
      .attr('transform', `translate(10,${top + h / 2}) rotate(-90)`)
      .attr('text-anchor', 'middle').style('font-size', '7.5px').style('letter-spacing', '0.3px')
      .text('Flux (mJy)');
  }
});
</script>
</body>
</html>
